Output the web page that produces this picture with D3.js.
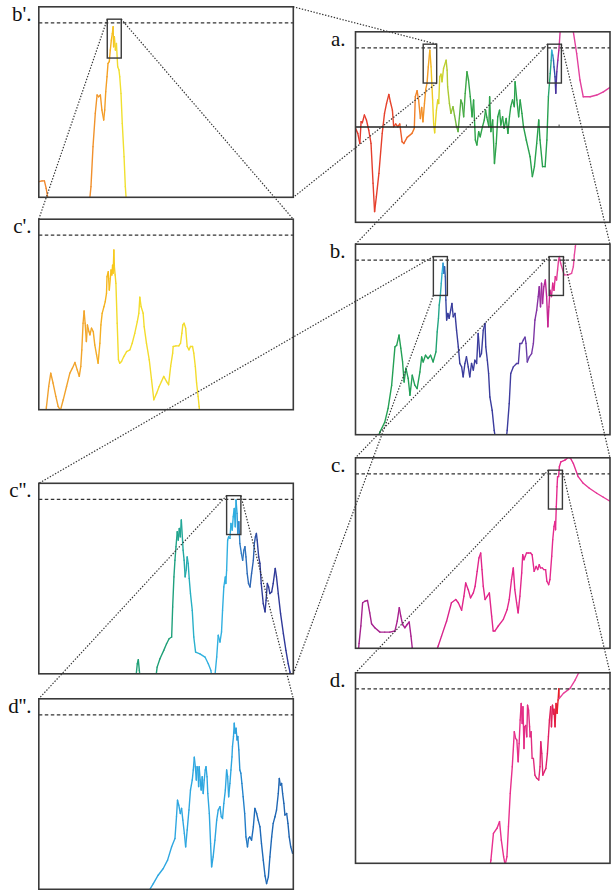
<!DOCTYPE html>
<html>
<head>
<meta charset="utf-8">
<script src="https://cdn.jsdelivr.net/npm/d3@7"></script>
<style>
  body { margin: 0; background: #fff; }
  svg text.panel-label { font-family: "Liberation Serif", "DejaVu Serif", serif; font-size: 21px; }
</style>
</head>
<body>
<svg id="fig" width="611" height="890"></svg>
<script>
// ---------------------------------------------------------------
// Random-walk path shown at successive magnifications.
// Every panel uses its own window: x runs 0..100 across the frame,
// y runs 0..100 from bottom to top. Points outside 0..100 leave
// the frame and are clipped.
// ---------------------------------------------------------------

// a. full path
const pathA = [[0,49.3],[0.9,46.7],[1.7,41.4],[2.2,52.8],[2.7,52.3],[3.5,56.3],[4.3,53.7],[5.2,48.4],[6.1,41.4],[6.9,20.5],[7.5,5.6],[8.2,13.5],[9.2,25.7],[10.5,46.7],[11.4,57.2],[12.2,62.4],[13.1,67.1],[13.7,63.3],[14.5,58.9],[15.0,50.2],[15.8,51.6],[16.6,50.2],[17.4,51.6],[18.3,42.3],[19.0,41.4],[20.3,44.6],[22.2,46.7],[23.1,49.3],[23.5,65.9],[24.2,69.1],[24.8,64.2],[25.5,54.5],[26.0,60.3],[26.5,52.8],[27.1,62.4],[27.6,69.8],[28.1,72.9],[28.6,81.6],[29.2,90.4],[29.7,81.6],[30.3,64.2],[30.7,51.9],[31.1,47.0],[31.8,58.9],[32.3,64.2],[32.7,62.4],[33.1,76.4],[33.6,77.8],[34.0,73.8],[34.6,80.8],[35.6,85.1],[36.0,79.9],[36.2,71.2],[36.9,62.4],[37.5,57.2],[38.3,60.7],[38.9,56.3],[39.6,51.0],[40.3,47.6],[40.9,56.3],[41.4,64.2],[41.9,62.4],[42.5,55.4],[43.1,67.7],[43.8,79.0],[44.4,74.7],[45.1,65.9],[45.8,55.4],[46.4,64.2],[47.1,43.2],[47.7,40.6],[48.4,47.6],[49.0,44.9],[49.9,50.2],[50.6,53.7],[51.1,58.9],[51.6,55.1],[52.4,50.2],[52.7,65.9],[53.2,47.6],[53.9,53.7],[54.6,30.9],[55.3,41.4],[55.9,55.4],[56.6,58.9],[57.1,51.0],[57.8,55.4],[58.4,49.3],[59.2,54.5],[59.9,46.7],[60.5,55.4],[61.0,60.7],[61.7,64.2],[62.4,60.7],[62.7,73.8],[63.4,64.2],[64.1,55.4],[64.7,64.2],[65.4,57.2],[66.0,50.2],[67.1,43.2],[68.0,37.9],[68.6,34.4],[69.5,24.0],[70.3,29.2],[71.2,41.4],[72.0,53.7],[72.5,43.2],[73.5,29.2],[74.5,29.2],[75.2,43.2],[75.8,65.9],[76.5,78.1],[76.9,85.1],[77.1,90.4],[77.5,87.8],[77.8,85.1],[78.0,81.6],[78.4,76.4],[78.7,67.7],[79.1,79.0],[79.5,85.1],[79.9,90.4],[80.1,93.9],[80.4,100],[80.7,106],[85.0,106],[85.6,100],[86.9,88.6],[88.2,74.7],[89.5,65.9],[92.2,65.9],[94.8,66.8],[97.4,68.5],[100,70.8]];

// b. second window of a
const pathB = [[8.6,-4],[9.6,1.4],[11.5,6.6],[12.8,13.8],[14.2,25.9],[15.5,46.1],[16.2,47.0],[17.1,52.3],[17.8,45.4],[18.5,38.2],[19.1,27.7],[19.8,34.9],[20.7,29.6],[21.4,20.7],[22.3,31.2],[23.3,26.0],[24.2,24.2],[25.3,32.9],[26.0,40.8],[26.6,38.2],[27.5,41.7],[28.5,40.0],[29.5,41.7],[30.5,38.2],[31.6,43.5],[32.1,54.0],[32.6,61.1],[32.9,68.1],[33.3,72.5],[33.7,79.5],[34.0,84.7],[34.4,90.0],[34.7,84.7],[35.0,88.2],[35.3,83.0],[35.5,70.7],[35.8,60.2],[36.3,63.7],[36.8,61.1],[37.4,65.4],[37.9,68.9],[38.4,61.9],[39.1,63.7],[39.7,54.9],[40.4,46.1],[41.0,37.4],[41.7,35.6],[42.3,30.4],[43.0,37.4],[43.6,40.9],[44.3,35.6],[44.9,30.4],[45.6,37.4],[46.3,33.9],[46.9,39.1],[47.6,37.4],[48.2,53.2],[48.9,40.9],[49.5,42.6],[50.2,54.9],[50.9,58.4],[51.2,46.1],[51.8,39.1],[52.3,32.1],[52.8,19.8],[53.7,12.8],[54.5,2.3],[55.2,-4],[59.1,-4],[59.6,2.3],[60.4,16.3],[61.0,32.1],[62.0,35.6],[63.3,37.4],[64.0,37.4],[64.6,47.9],[65.3,47.9],[65.9,49.6],[66.6,51.2],[67.0,47.9],[67.5,38.2],[68.3,40.9],[69.2,42.6],[69.9,47.9],[70.5,60.2],[71.2,65.4],[71.8,72.5],[72.2,77.7],[72.7,67.1],[73.1,79.5],[73.5,68.9],[74.0,77.7],[74.6,81.2],[75.1,72.5],[75.6,56.7],[76.0,67.1],[76.4,75.8],[77.0,72.5],[77.5,79.5],[78.0,75.8],[78.5,83.0],[79.0,81.2],[79.4,86.5],[79.8,91.8],[80.1,93.5],[80.6,90.0],[81.4,86.5],[82.0,83.9],[83.6,83.9],[84.9,84.7],[85.6,88.2],[86.0,94.4],[86.4,98.8],[86.8,104]];

// c. second window of b
const pathC = [[1.0,-4],[1.4,2.6],[2.1,11.7],[2.8,23.9],[3.7,24.7],[4.7,25.1],[5.6,18.6],[6.3,12.9],[7.6,10.8],[9.6,8.5],[11.5,8.5],[13.5,8.5],[15.5,9.1],[16.4,14.3],[17.2,21.3],[17.8,16.9],[18.5,12.5],[19.4,10.8],[20.3,12.5],[21.1,13.8],[21.8,6.4],[22.3,0.3],[22.6,-4],[31.0,-4],[32.5,1.2],[33.8,6.4],[35.8,14.3],[37.7,23.9],[39.4,25.6],[40.4,23.9],[41.7,20.0],[42.6,27.4],[43.3,34.3],[44.3,30.8],[45.2,26.5],[46.3,29.1],[47.0,32.6],[47.8,40.4],[48.5,47.4],[49.2,50.0],[49.7,41.3],[50.2,32.6],[50.9,25.6],[51.8,27.4],[52.6,29.1],[53.5,16.9],[54.1,9.1],[54.8,9.1],[56.1,11.7],[58.1,15.2],[59.6,20.4],[60.4,25.6],[61.3,36.1],[62.0,42.2],[62.6,30.8],[63.3,23.9],[63.9,18.6],[64.6,27.4],[65.3,39.5],[65.7,49.1],[66.2,46.5],[66.7,48.3],[67.2,50.0],[67.9,50.0],[68.8,50.0],[69.4,49.1],[70.2,40.4],[71.0,43.0],[71.6,41.3],[72.2,43.9],[72.7,42.2],[73.4,42.2],[74.0,41.3],[74.7,41.3],[75.2,35.2],[75.9,33.4],[76.4,36.1],[77.1,48.3],[77.5,57.0],[78.0,63.9],[78.4,66.6],[78.6,62.2],[78.9,74.4],[79.2,84.8],[79.4,90.1],[79.8,90.1],[80.1,95.3],[80.7,97.9],[82.3,98.8],[83.6,100.2],[84.5,99.7],[85.6,97.0],[87.5,90.1],[89.5,86.6],[91.9,84.0],[94.8,81.4],[97.4,79.3],[100,77.2]];

// d. window of c around the first crossing
const pathD = [[52.7,-3],[53.2,1.7],[54.2,15.7],[55.6,18.4],[56.6,21.9],[57.3,12.2],[58.2,3.5],[58.8,-0.9],[59.5,3.5],[60.1,19.2],[60.8,36.7],[61.6,50.7],[62.4,69.1],[62.9,65.6],[63.4,64.7],[63.9,53.3],[64.3,62.9],[64.7,75.2],[65.1,83.9],[65.5,73.4],[65.8,82.2],[66.2,60.3],[66.5,71.7],[66.9,72.4],[67.3,66.4],[67.6,83.0],[68.0,80.4],[68.4,71.7],[68.6,66.4],[69.0,69.1],[69.4,55.1],[69.9,55.1],[70.5,46.3],[71.2,44.6],[72.0,43.7],[72.5,50.7],[72.8,63.8],[73.2,57.7],[73.6,46.3],[74.2,48.1],[74.8,49.8],[75.4,57.7],[75.8,66.4],[76.2,75.2],[76.7,82.2],[77.0,71.7],[77.4,83.0],[77.8,78.3],[78.0,80.9],[78.4,71.7],[78.8,83.9],[79.2,78.7],[79.6,85.7],[79.9,91.6],[80.0,86.5],[81.7,89.2],[84.3,91.8],[86.3,96.2],[87.7,100],[88.3,102]];

// b'. first window of a
const pathB1 = [[-2,8.2],[0,8.2],[1.3,8.6],[2.2,8.6],[2.9,4.7],[3.5,0],[4.3,-4],[19.8,-4],[20.5,5.6],[21.3,26.6],[22.2,44.1],[22.9,53.7],[23.5,52.8],[24.2,53.7],[24.8,45.8],[25.5,40.6],[25.9,45.8],[26.3,55.4],[26.8,63.3],[27.2,70.3],[27.7,71.2],[28.1,77.3],[28.5,82.5],[28.9,86.0],[29.2,89.5],[29.4,79.0],[29.7,84.3],[30.1,77.3],[30.5,80.8],[31.0,68.5],[31.5,66.8],[31.8,63.3],[32.3,54.5],[32.8,38.8],[33.5,21.3],[34.0,5.6],[34.5,-4]];

// c'. window of b'
const pathC1 = [[2.5,-4],[3.0,1.4],[3.9,12.2],[4.7,19.2],[5.6,14.0],[6.7,7.0],[7.6,1.7],[8.5,-0.3],[9.6,5.2],[10.9,12.2],[12.2,19.2],[13.2,21.8],[14.2,24.8],[15.1,20.9],[15.9,17.5],[16.5,22.7],[16.9,31.4],[17.4,45.4],[17.8,51.8],[18.2,45.4],[18.7,35.8],[19.1,44.5],[19.7,41.0],[20.1,39.3],[20.7,42.8],[21.4,41.0],[22.0,34.0],[22.7,28.8],[23.3,24.4],[24.0,34.9],[24.4,44.5],[24.9,50.6],[25.6,54.1],[26.1,56.7],[26.6,61.1],[26.8,69.8],[27.3,72.4],[27.7,62.8],[28.1,68.9],[28.4,73.3],[28.7,70.7],[29.0,75.9],[29.2,71.6],[29.5,83.8],[29.7,75.0],[30.0,70.7],[30.3,66.3],[30.8,45.4],[31.3,26.2],[31.8,24.4],[32.5,25.3],[33.4,27.9],[34.5,30.5],[35.8,31.4],[36.7,34.9],[37.7,40.1],[38.7,46.2],[39.3,50.6],[39.7,59.0],[40.2,54.1],[41.0,50.6],[41.4,43.6],[42.3,34.9],[43.4,26.2],[44.3,15.7],[45.2,5.2],[46.3,8.7],[47.3,12.2],[48.2,14.8],[49.1,17.5],[50.2,14.8],[51.0,13.1],[51.8,22.7],[52.6,29.7],[52.8,33.2],[53.9,33.5],[55.0,33.5],[55.7,34.9],[56.2,40.1],[56.6,44.5],[57.1,45.4],[57.7,42.8],[58.3,33.2],[59.0,31.4],[59.6,33.2],[60.4,33.2],[60.9,29.7],[61.5,22.7],[62.0,14.0],[62.6,7.0],[63.0,1.7],[63.4,-4]];

// c''. first window of b
const pathC2 = [[38.0,-4],[38.7,5.3],[39.1,7.4],[39.5,1.8],[39.9,-4],[45.8,-4],[46.5,3.5],[47.6,7.9],[49.1,12.3],[50.2,15.8],[51.2,18.4],[52.2,19.3],[52.6,35.1],[53.1,50.9],[53.5,59.6],[53.9,66.7],[54.4,74.6],[54.8,70.2],[55.2,76.3],[55.6,71.9],[56.0,80.7],[56.4,71.9],[56.7,64.9],[57.1,59.6],[57.5,50.9],[57.9,54.4],[58.3,61.4],[58.7,57.9],[59.1,50.0],[59.6,42.1],[60.3,33.3],[60.9,19.3],[61.6,11.4],[63.3,10.5],[65.3,8.8],[66.6,5.3],[67.6,1.8],[68.3,-4],[69.0,-4],[69.9,8.8],[70.5,20.2],[71.2,16.7],[71.8,22.0],[72.2,33.3],[72.7,45.6],[73.3,50.9],[73.5,47.4],[73.8,54.4],[74.2,70.2],[74.6,71.9],[75.1,71.1],[75.5,78.9],[76.0,75.4],[76.4,82.5],[76.8,86.8],[77.2,77.2],[77.5,91.2],[77.9,84.2],[78.2,73.7],[78.6,79.8],[79.0,68.4],[79.6,63.2],[80.1,59.6],[80.6,64.9],[81.0,66.7],[81.4,61.4],[81.9,52.6],[82.4,47.4],[83.0,45.6],[83.6,52.6],[84.3,59.6],[84.7,68.4],[85.1,71.9],[85.5,73.7],[85.8,70.2],[86.4,61.4],[86.9,57.9],[87.4,47.4],[88.2,36.8],[88.9,32.5],[89.3,38.6],[89.8,47.4],[90.3,45.6],[90.8,42.1],[91.5,43.0],[92.1,47.4],[92.9,55.3],[93.4,50.9],[94.1,42.1],[95.0,31.6],[96.1,21.1],[97.1,12.3],[98.0,5.3],[98.7,0.9],[99.2,-4]];

// d''. window of c''
const pathD2 = [[43.0,-3],[43.4,-0.5],[45.0,3.0],[46.9,7.4],[48.9,10.9],[50.6,15.3],[52.2,22.3],[53.5,26.7],[54.1,38.1],[54.5,46.8],[55.0,44.2],[55.6,39.8],[56.1,42.5],[56.6,36.3],[57.2,29.3],[57.7,22.3],[58.3,31.1],[59.0,41.6],[59.6,52.1],[60.3,57.4],[60.7,62.6],[61.1,69.3],[61.5,64.4],[61.9,57.4],[62.2,64.4],[62.5,62.6],[62.8,53.9],[63.0,64.4],[63.4,57.4],[63.8,52.1],[64.2,59.1],[64.6,50.3],[65.0,57.4],[65.4,62.6],[65.7,64.4],[66.1,59.1],[66.4,50.3],[67.0,39.8],[67.5,24.0],[67.9,11.8],[68.5,17.0],[69.2,25.8],[69.9,36.3],[70.5,41.6],[71.2,43.4],[71.7,38.1],[72.2,37.2],[72.7,45.1],[73.3,52.1],[73.8,62.6],[74.2,59.1],[74.6,48.6],[75.1,55.6],[75.5,62.6],[75.9,69.5],[76.1,74.9],[76.5,80.2],[76.8,87.2],[77.1,81.9],[77.5,84.6],[77.9,78.4],[78.2,80.2],[78.6,73.2],[79.0,62.6],[79.4,60.9],[79.8,55.6],[80.3,48.6],[80.9,39.8],[81.4,27.5],[82.0,22.3],[82.4,26.7],[82.9,27.5],[83.6,25.8],[84.3,32.8],[84.9,42.5],[85.6,39.8],[86.2,36.3],[86.9,32.8],[87.5,24.0],[88.2,15.3],[88.9,7.0],[89.5,3.0],[90.2,6.5],[90.8,17.0],[91.5,27.5],[92.1,34.6],[92.8,38.1],[93.4,41.6],[94.1,50.3],[94.5,58.2],[94.9,54.7],[95.4,55.6],[95.8,50.3],[96.3,45.1],[96.7,39.0],[97.4,39.8],[97.9,34.6],[98.4,27.5],[99.0,22.3],[99.7,19.0],[100,19.9]];

// Level reached by the walk (dashed) and the zero level of panel a
const threshold = 91.6;
const zeroLevel = 50;
const zeroTicks = [20, 80];

// Magnified windows, in the parent panel's units: [x0, x1, y0, y1]
const winA1 = [26.6, 31.9, 73.1, 93.5];   // a  -> b'
const winA2 = [75.5, 80.9, 73.1, 93.5];   // a  -> b
const winB1 = [30.6, 36.1, 73.1, 93.5];   // b  -> c''
const winB2 = [76.1, 81.7, 73.1, 93.5];   // b  -> c
const winC  = [75.8, 81.3, 73.1, 93.5];   // c  -> d
const winB1p = [26.9, 32.4, 73.1, 93.5];  // b' -> c'
const winC2 = [73.8, 79.4, 73.1, 93.5];   // c'' -> d''

// ---------------------------------------------------------------
// Colour along the path (time runs red -> yellow -> green -> blue -> magenta)
// ---------------------------------------------------------------
const ramp = (dom, cols) => d3.scaleLinear().domain(dom).range(cols).clamp(true);
const rampA = ramp([0,14,18,23,28.5,29.6,30.5,33.5,37,40.5,45,75.5,76.8,77.3,77.9,78.6,79.3,79.8,80.4,100],
  ['#e4392d','#e6432c','#eb5a2b','#f07e2a','#f39a26','#f4b820','#eed625','#d4d52a','#a6c834','#5cb043','#2fa449','#27a04e','#25a98a','#31b2de','#2f62b4','#30329a','#7632a2','#b82694','#e2409e','#e2409e']);
const rampB = ramp([0,31,33.2,34.2,35.0,35.8,60,68,72,75,78,80.5,100],
  ['#26a04e','#22a05c','#22a896','#33b6e0','#2f66b6','#393c9c','#3b3c9e','#6a3ca8','#8c30a2','#c02494','#de2a8c','#e6489e','#e6489e']);
const rampC = ramp([0,24,31,40,80,100],
  ['#a4228e','#aa2290','#d0228c','#e0248a','#e42a8e','#e83a9a']);
const rampD = ramp([0,60,70,75,78,79.3,79.96,79.97,100],
  ['#e8349a','#e8308e','#e02c80','#e0206c','#e01e50','#e81e28','#e81e28','#e8409a','#e8409a']);
const rampB1 = ramp([0,20,27,28.8,30.2,31.5,100],
  ['#f0862e','#f08e2e','#f4a024','#f5b81c','#f2d42a','#f0e030','#f0e030']);
const rampC1 = ramp([0,20,26.5,29.3,30.6,100],
  ['#f0a030','#f2a62a','#f5b41f','#f8c61a','#f3dc2c','#f3dc2c']);
const rampC2 = ramp([0,52,56,60,64,77.5,79,84.5,86.5,100],
  ['#1fa070','#1fa078','#21a696','#27b0c4','#32b2e0','#30aee0','#2f7cc4','#2b5fb0','#2f3c98','#30389a']);
const rampD2 = ramp([0,77,80,84,100],
  ['#30aae2','#2ea6e0','#2484cc','#1f6cba','#2064b0']);

// ---------------------------------------------------------------
// Layout
// ---------------------------------------------------------------
const W = 254.5, H = 190.5;
const svg = d3.select("#fig");
const ink = "#3a3a3a";

const panels = {
  a:  { x: 355.5, y: 31.8,  label: "a.",   path: pathA,  ramp: rampA, side: "r" },
  b:  { x: 355.5, y: 244.2, label: "b.",   path: pathB,  ramp: rampB, side: "r" },
  c:  { x: 355.5, y: 457.8, label: "c.",   path: pathC,  ramp: rampC, side: "r" },
  d:  { x: 355.5, y: 672.8, label: "d.",   path: pathD,  ramp: rampD, side: "r" },
  b1: { x: 38.8,  y: 6.8,   label: "b'.",  path: pathB1, ramp: rampB1, side: "l" },
  c1: { x: 38.8,  y: 219.2, label: "c'.",  path: pathC1, ramp: rampC1, side: "l" },
  c2: { x: 38.8,  y: 483.3, label: "c''.", path: pathC2, ramp: rampC2, side: "l" },
  d2: { x: 38.8,  y: 698.8, label: "d''.", path: pathD2, ramp: rampD2, side: "l" }
};

// parent window -> child panel, with the corner pairs joined by dotted lines
const links = [
  { from: "a",  win: winA1,  to: "b1", pairs: [["tr","tr"],["br","br"]] },
  { from: "a",  win: winA2,  to: "b",  pairs: [["tl","tl"],["tr","tr"]] },
  { from: "b1", win: winB1p, to: "c1", pairs: [["tl","tl"],["tr","tr"]] },
  { from: "b",  win: winB1,  to: "c2", pairs: [["tl","tl"],["bl","br"]] },
  { from: "b",  win: winB2,  to: "c",  pairs: [["tl","tl"],["tr","tr"]] },
  { from: "c",  win: winC,   to: "d",  pairs: [["tl","tl"],["tr","tr"]] },
  { from: "c2", win: winC2,  to: "d2", pairs: [["tl","tl"],["tr","tr"]] }
];

const defs = svg.append("defs");
const layerPanels = svg.append("g");
const layerLinks = svg.append("g");

Object.entries(panels).forEach(([key, p]) => {
  p.xs = d3.scaleLinear().domain([0, 100]).range([p.x, p.x + W]);
  p.ys = d3.scaleLinear().domain([0, 100]).range([p.y + H, p.y]);

  defs.append("clipPath").attr("id", "clip-" + key)
    .append("rect").attr("x", p.x).attr("y", p.y).attr("width", W).attr("height", H);

  const g = layerPanels.append("g");

  // path, one short segment per step so the colour can follow time
  const line = d3.line().x(d => p.xs(d[0])).y(d => p.ys(d[1]));
  g.append("g").attr("clip-path", `url(#clip-${key})`)
    .selectAll("path").data(d3.pairs(p.path)).join("path")
    .attr("d", line)
    .attr("fill", "none")
    .attr("stroke", s => p.ramp((s[0][0] + s[1][0]) / 2))
    .attr("stroke-width", 1.4)
    .attr("stroke-linecap", "round")
    .attr("stroke-linejoin", "round");

  // threshold level
  g.append("line")
    .attr("x1", p.xs(0)).attr("x2", p.xs(100))
    .attr("y1", p.ys(threshold)).attr("y2", p.ys(threshold))
    .attr("stroke", "#333").attr("stroke-width", 1.2)
    .attr("stroke-dasharray", "3.5,2.5");

  if (key === "a") {
    g.append("line")
      .attr("x1", p.xs(0)).attr("x2", p.xs(100))
      .attr("y1", p.ys(zeroLevel)).attr("y2", p.ys(zeroLevel))
      .attr("stroke", "#222").attr("stroke-width", 1.5);
    g.selectAll("line.tick").data(zeroTicks).join("line").attr("class", "tick")
      .attr("x1", d => p.xs(d)).attr("x2", d => p.xs(d))
      .attr("y1", p.ys(zeroLevel) - 2.5).attr("y2", p.ys(zeroLevel))
      .attr("stroke", "#444").attr("stroke-width", 1);
  }

  // frame
  g.append("rect")
    .attr("x", p.x).attr("y", p.y).attr("width", W).attr("height", H)
    .attr("fill", "none").attr("stroke", ink).attr("stroke-width", 1.6);

  // label
  g.append("text")
    .attr("class", "panel-label")
    .attr("x", p.side === "r" ? p.x - 10 : p.x - 7.3)
    .attr("y", p.y + 13.8)
    .attr("text-anchor", "end")
    .attr("fill", "#111")
    .text(p.label);
});

function corners(x0, y0, x1, y1) {
  return { tl: [x0, y0], tr: [x1, y0], bl: [x0, y1], br: [x1, y1] };
}

links.forEach(l => {
  const par = panels[l.from], ch = panels[l.to];
  const bx0 = par.xs(l.win[0]), bx1 = par.xs(l.win[1]);
  const by0 = par.ys(l.win[3]), by1 = par.ys(l.win[2]);

  // window box in the parent panel
  layerPanels.append("rect")
    .attr("x", bx0).attr("y", by0).attr("width", bx1 - bx0).attr("height", by1 - by0)
    .attr("fill", "none").attr("stroke", ink).attr("stroke-width", 1.4);

  const cb = corners(bx0, by0, bx1, by1);
  const cp = corners(ch.x, ch.y, ch.x + W, ch.y + H);
  l.pairs.forEach(([a, b]) => {
    layerLinks.append("line")
      .attr("x1", cb[a][0]).attr("y1", cb[a][1])
      .attr("x2", cp[b][0]).attr("y2", cp[b][1])
      .attr("stroke", "#333").attr("stroke-width", 1.2)
      .attr("stroke-dasharray", "1.4,1.6");
  });
});
</script>
</body>
</html>
